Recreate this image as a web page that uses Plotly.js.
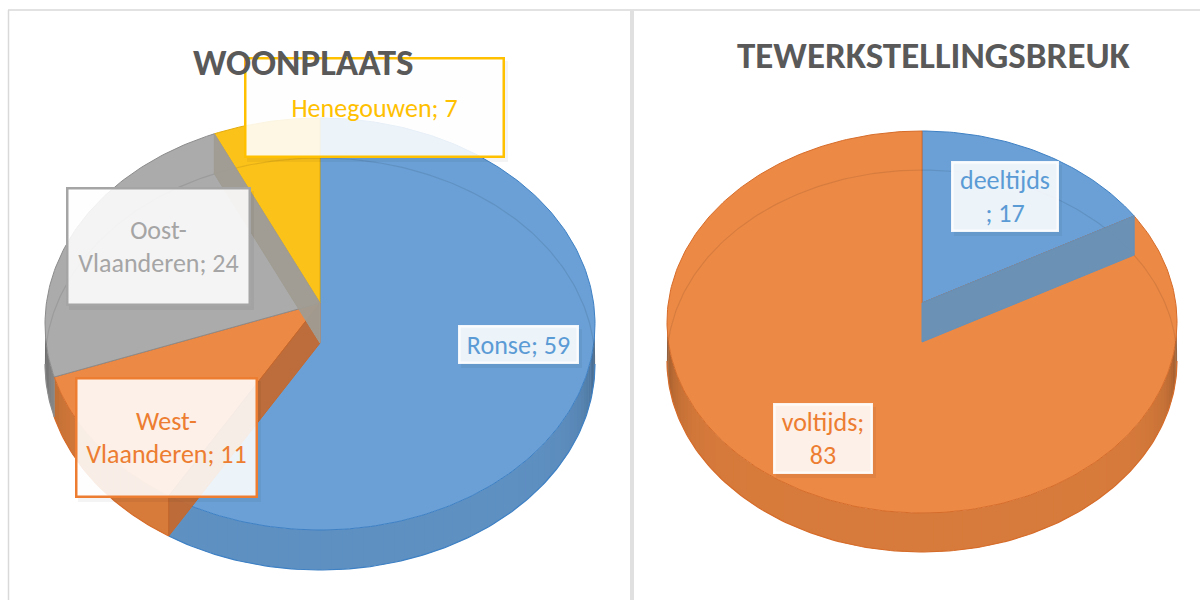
<!DOCTYPE html>
<html><head><meta charset="utf-8">
<script src="https://cdn.plot.ly/plotly-3.0.1.min.js"></script>
<style>html,body{margin:0;padding:0;background:#fff}#chart{width:1200px;height:600px}</style>
</head><body><div id="chart"></div>
<script>
// ---------------- data ----------------
const woonplaatsCategories = ['Ronse', 'West-Vlaanderen', 'Oost-Vlaanderen', 'Henegouwen'];
const woonplaatsValues = [59, 11, 24, 7];
const tewerkCategories = ['deeltijds', 'voltijds'];
const tewerkValues = [17, 83];
const chartTitles = ['WOONPLAATS', 'TEWERKSTELLINGSBREUK'];

// ---------------- style ----------------
const TOP = ['rgb(106,160,214)', 'rgb(236,137,69)', 'rgb(171,171,171)', 'rgb(251,194,26)'];
const WALL = [[98,150,202], [224,128,62], [158,158,158], [236,180,22]];
const EDGE = ['rgb(62,128,196)', 'rgb(214,108,42)', 'rgb(140,140,140)', 'rgb(228,172,12)'];
const TXT = ['#5B9BD5', '#ED7D31', '#A5A5A5', '#FFC000'];
const FONT = 'Carlito, Lato, "Open Sans", sans-serif';

// pie geometry (screen extents of the 3D top face), label boxes, radial wall colours
const pies = [
  { cats: woonplaatsCategories, vals: woonplaatsValues, colorIdx: [0,1,2,3],
    cx: 320, cy: 303, topY: 118, frontY: 530, half: 275, h: 40,
    title: {x: 303, y: 62},
    boxes: [ {x:518,y:344,w:120,h:38,border:'rgba(255,255,255,0.9)',brk:null},
             {x:166,y:437,w:182,h:120,border:'#ED7D31',brk:5},
             {x:158,y:246,w:184,h:118,border:'#A5A5A5',brk:5},
             {x:374,y:107,w:260,h:100,border:'#FFC000',brk:null} ],
    // colour of the see-through wall at the END boundary of each slice
    walls: ['rgba(196,104,46,0.92)', null, 'rgba(160,156,146,0.95)', null] },
  { cats: tewerkCategories, vals: tewerkValues, colorIdx: [0,1],
    cx: 922, cy: 303, topY: 131, frontY: 513, half: 255, h: 39,
    title: {x: 934, y: 55},
    boxes: [ {x:1004.5,y:196,w:107,h:70,border:'rgba(255,255,255,0.9)',brk:9},
             {x:822.5,y:438,w:99,h:70,border:'rgba(255,255,255,0.9)',brk:9} ],
    walls: ['rgba(100,145,187,0.95)', null] }
];

// ---------------- geometry helpers ----------------
function geom(p) {
  const a = p.cy - p.topY, b = p.frontY - p.cy;
  const k = (b - a) / (b + a);
  return { cx: p.cx, cy: p.cy, k: k, B: a * (1 + k), A: p.half * Math.sqrt(1 - k * k), h: p.h };
}
function P(g, deg, r, z) {
  const t = deg * Math.PI / 180, u = r * Math.sin(t), v = r * Math.cos(t), d = 1 + g.k * v;
  return [g.cx + g.A * u / d, g.cy - g.B * v / d + (z ? g.h : 0)];
}
function arc(g, a, b, z) {
  const pts = [], n = Math.max(2, Math.ceil(Math.abs(b - a) / 1));
  for (let i = 0; i <= n; i++) pts.push(P(g, a + (b - a) * i / n, 1, z));
  return pts;
}
const traces = [];
function poly(pts, fill, line, lw) {
  traces.push({ type: 'scatter', mode: 'lines', x: pts.map(q => q[0]), y: pts.map(q => q[1]),
    fill: fill ? 'toself' : 'none', fillcolor: fill || 'rgba(0,0,0,0)',
    line: { color: line || 'rgba(0,0,0,0)', width: lw || 0 }, hoverinfo: 'skip', showlegend: false });
}
const rgb = (c, f) => 'rgb(' + c.map(x => Math.round(Math.min(255, x * f))).join(',') + ')';

const annotations = [], titleAnnotations = [], shapes = [];

pies.forEach((p, pi) => {
  const g = geom(p);
  const total = p.vals.reduce((s, v) => s + v, 0);
  const starts = [], ends = [];
  let acc = 0;
  p.vals.forEach(v => { starts.push(360 * acc / total); acc += v; ends.push(360 * acc / total); });
  const sil = Math.asin(g.k) * 180 / Math.PI;
  const thL = 90 + sil, thR = 270 - sil;

  // outer (front) walls, shaded towards the silhouette
  p.vals.forEach((v, i) => {
    const ci = p.colorIdx[i];
    const lo = Math.max(starts[i], thL), hi = Math.min(ends[i], thR);
    if (hi <= lo) return;
    const step = 2;
    for (let s = lo; s < hi; s += step) {
      const e = Math.min(hi, s + step + 0.6);
      const m = (s + Math.min(hi, s + step)) / 2;
      const t = (m - 180) / (thR - 180);
      const f = 1.0 - 0.42 * Math.pow(Math.abs(t), 7) - 0.04;
      const pts = arc(g, s, e, 0).concat(arc(g, e, s, 1));
      poly(pts, rgb(WALL[ci], f), null, 0);
    }
    poly(arc(g, lo, hi, 1), null, EDGE[ci], 1.2);
    [starts[i], ends[i]].forEach(a => { if (a > thL && a < thR) poly([P(g, a, 1, 0), P(g, a, 1, 1)], null, EDGE[ci], 1); });
  });

  // top faces
  p.vals.forEach((v, i) => {
    const ci = p.colorIdx[i];
    const pts = [P(g, 0, 0, 0)].concat(arc(g, starts[i], ends[i], 0)).concat([P(g, 0, 0, 0)]);
    poly(pts, TOP[ci], EDGE[ci], 1);
  });

  // faint far half of the bottom rim, seen through the top
  poly(arc(g, thR, thL + 360, 1), null, 'rgba(0,0,0,0.09)', 1.2);

  // see-through radial walls
  p.vals.forEach((v, i) => {
    const col = p.walls[i];
    if (!col) return;
    const a = ends[i];
    const pts = [P(g, a, 0, 0), P(g, a, 1, 0), P(g, a, 1, 1), P(g, a, 0, 1), P(g, a, 0, 0)];
    poly(pts, col, col.replace(/[\d.]+\)$/, '1)'), 1);
  });

  // title (drawn last, above the label boxes)
  titleAnnotations.push({ x: p.title.x, y: p.title.y, xref: 'x', yref: 'y', showarrow: false,
    text: '<b>' + chartTitles[pi] + '</b>', font: { family: FONT, size: 37, color: '#595959' },
    xanchor: 'center', yanchor: 'middle' });

  // data labels
  p.vals.forEach((v, i) => {
    const b = p.boxes[i], ci = p.colorIdx[i];
    let txt = p.cats[i] + '; ' + v;
    if (b.brk) txt = txt.slice(0, b.brk).trim() + '<br>' + txt.slice(b.brk).trim();
    shapes.push({ type: 'rect', xref: 'x', yref: 'y', x0: b.x - b.w / 2 + 3, x1: b.x + b.w / 2 + 4,
      y0: b.y - b.h / 2 + 4, y1: b.y + b.h / 2 + 5, fillcolor: 'rgba(0,0,0,0.045)', line: { width: 0 }, layer: 'above' });
    annotations.push({ x: b.x, y: b.y, xref: 'x', yref: 'y', showarrow: false, text: txt,
      font: { family: FONT, size: 26, color: TXT[ci] }, align: 'center',
      xanchor: 'center', yanchor: 'middle', width: b.w - 4, height: b.h - 4, borderpad: 0,
      bgcolor: 'rgba(255,255,255,0.88)', bordercolor: b.border, borderwidth: 2.5 });
  });
});

// frame lines
shapes.push({ type: 'line', xref: 'x', yref: 'y', x0: 8, x1: 1200, y0: 10, y1: 10, line: { color: '#D9D9D9', width: 1.5 } });
shapes.push({ type: 'line', xref: 'x', yref: 'y', x0: 8.5, x1: 8.5, y0: 10, y1: 600, line: { color: '#D9D9D9', width: 1.5 } });
shapes.push({ type: 'line', xref: 'x', yref: 'y', x0: 632, x1: 632, y0: 10, y1: 600, line: { color: '#E0E0E0', width: 4 } });

const ax = { range: [0, 1200], showgrid: false, zeroline: false, showticklabels: false, showline: false, fixedrange: true };
const layout = {
  width: 1200, height: 600, margin: { l: 0, r: 0, t: 0, b: 0 },
  paper_bgcolor: '#ffffff', plot_bgcolor: '#ffffff', showlegend: false,
  xaxis: ax, yaxis: Object.assign({}, ax, { range: [600, 0] }),
  annotations: annotations.concat(titleAnnotations), shapes: shapes
};
Plotly.newPlot('chart', traces, layout, { staticPlot: true, displayModeBar: false });
</script></body></html>
